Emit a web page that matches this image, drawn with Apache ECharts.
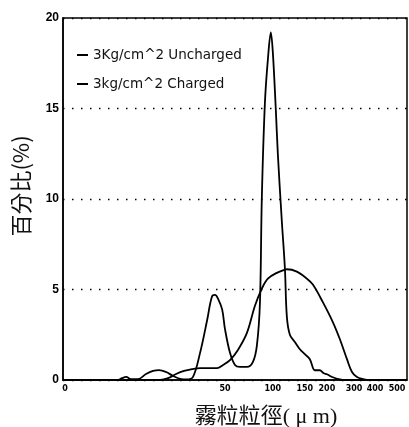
<!DOCTYPE html>
<html lang="zh-Hant">

<head>
    <meta charset="UTF-8">
    <title>霧粒粒徑分佈</title>
    <style>
        * {
            margin: 0;
            padding: 0;
        }

        body {
            background: #fff;
        }
    </style>
    <script src="https://cdn.jsdelivr.net/npm/echarts@6/dist/echarts.min.js"></script>
</head>

<body>
    <div id="chart" style="width: 409px;height: 427px;"></div>
    <script>
        // series names (legend)
        var seriesNames = ['3Kg/cm^2 Uncharged', '3kg/cm^2 Charged']

        // droplet size (um) / percentage
        var sizesUncharged = [0, 16.6, 17.8, 19.1, 20.6, 22.8, 25.3, 27.5, 29.4, 31.6,
            33.8, 36.3, 38.1, 40, 42.2, 44.4, 45.9, 46.9, 47.8, 49.1,
            50, 55.2, 60.4, 65.6, 72.9, 79.2, 83.3, 86.5, 88.5, 91.7,
            94.8, 97.9, 100, 104.7, 107.8, 114, 118.8, 121.9, 126.6, 134.4,
            142.2, 150, 161.4, 172.7, 184, 193, 200, 222, 248, 266, 540
        ]
        var valuesUncharged = [0, 0, 0.1, 0.17, 0.05, 0.05, 0.33, 0.5, 0.55, 0.44,
            0.22, 0.05, 0.03, 0.17, 1.5, 3.3, 4.6, 4.7, 4.5, 3.9,
            2.8, 1.5, 0.83, 0.72, 0.72, 1.0, 1.9, 4.25, 10.1, 15.3,
            17.7, 19.2, 18.1, 14.9, 12.5, 8.8, 6.2, 3.5, 2.5, 2.1,
            1.7, 1.43, 1.15, 0.54, 0.54, 0.37, 0.32, 0.15, 0.03, 0, 0
        ]

        var sizesCharged = [0, 29.7, 32.2, 34.7, 37.2, 39.7, 42.2, 45.3, 47.5, 49.4,
            55.2, 63.5, 72.9, 81.3, 88.5, 94.8, 106.3, 118.8, 121.9, 137.5,
            154.5, 168.2, 190.9, 222, 248, 274, 292.6, 314, 343, 376, 540
        ]
        var valuesCharged = [0, 0, 0.1, 0.33, 0.5, 0.6, 0.66, 0.66, 0.66, 0.83,
            1.1, 1.66, 2.6, 4.1, 5.05, 5.6, 5.92, 6.1, 6.12, 5.99,
            5.6, 5.27, 4.3, 3.2, 2.25, 1.15, 0.44, 0.16, 0.05, 0, 0
        ]

        // x tick labels (um)
        var sizeTicks = [0, 50, 100, 150, 200, 300, 400, 500]
        // the instrument's size axis is not linear: where each tick sits (0..1 along the axis)
        var tickSpots = [0.006, 0.471, 0.610, 0.703, 0.767, 0.846, 0.907, 0.971]

        function sizeToAxis(d) {
            var i = 1
            while (i < sizeTicks.length - 1 && d > sizeTicks[i]) i++
            var d0 = sizeTicks[i - 1], d1 = sizeTicks[i]
            var p0 = tickSpots[i - 1], p1 = tickSpots[i]
            return p0 + (d - d0) * (p1 - p0) / (d1 - d0)
        }

        function pairs(sizes, values) {
            return sizes.map((d, i) => [sizeToAxis(d), values[i]])
        }

        var chart = echarts.init(document.getElementById('chart'))
        var lineStyle = {
            color: '#000',
            width: 1.8
        }
        var option = {
            animation: false,
            backgroundColor: '#fff',
            grid: {
                left: 63,
                right: 2,
                top: 18,
                bottom: 47,
                outerBoundsMode: 'none',
                show: true,
                borderColor: '#000',
                borderWidth: 1.5
            },
            legend: {
                orient: 'vertical',
                left: 72,
                top: 43,
                itemGap: 15,
                itemWidth: 11,
                itemHeight: 2,
                icon: 'rect',
                textStyle: {
                    color: '#111',
                    fontSize: 13.5,
                    fontFamily: 'DejaVu Sans, sans-serif'
                },
                data: seriesNames
            },
            xAxis: {
                type: 'value',
                min: 0,
                max: 1,
                name: '霧粒粒徑( μ m)',
                nameLocation: 'middle',
                nameGap: 26,
                nameTextStyle: {
                    color: '#111',
                    fontSize: 22,
                    fontFamily: 'Liberation Serif, Noto Sans CJK TC, serif',
                    padding: [0, 0, 0, 62]
                },
                axisLine: {
                    lineStyle: {
                        color: '#000',
                        width: 1.5
                    }
                },
                axisTick: {
                    show: false
                },
                splitLine: {
                    show: false
                },
                axisLabel: {
                    customValues: tickSpots,
                    margin: 5,
                    color: '#000',
                    fontSize: 8,
                    fontWeight: 'bold',
                    fontFamily: 'DejaVu Sans, sans-serif',
                    formatter: v => {
                        var k = tickSpots.findIndex(p => Math.abs(p - v) < 1e-6)
                        return k < 0 ? '' : String(sizeTicks[k])
                    }
                }
            },
            yAxis: {
                type: 'value',
                min: 0,
                max: 20,
                interval: 5,
                name: '百分比(%)',
                nameLocation: 'middle',
                nameRotate: 90,
                nameGap: 31,
                nameTextStyle: {
                    color: '#111',
                    fontSize: 22,
                    fontFamily: 'Noto Sans CJK TC, sans-serif',
                    padding: [0, 0, 0, 26]
                },
                axisLine: {
                    show: true,
                    lineStyle: {
                        color: '#000',
                        width: 1.5
                    }
                },
                axisTick: {
                    show: false
                },
                axisLabel: {
                    margin: 4,
                    color: '#000',
                    fontSize: 12,
                    fontWeight: 'bold',
                    fontFamily: 'Liberation Sans, Arial, sans-serif'
                },
                splitLine: {
                    lineStyle: {
                        color: '#000',
                        width: 1.4,
                        type: [1.5, 7.5]
                    }
                }
            },
            series: [{
                name: seriesNames[0],
                type: 'line',
                showSymbol: false,
                smooth: 0.35,
                color: '#000',
                lineStyle: lineStyle,
                data: pairs(sizesUncharged, valuesUncharged)
            }, {
                name: seriesNames[1],
                type: 'line',
                showSymbol: false,
                smooth: 0.35,
                color: '#000',
                lineStyle: lineStyle,
                data: pairs(sizesCharged, valuesCharged)
            }]
        }
        chart.setOption(option)
    </script>
</body>

</html>
